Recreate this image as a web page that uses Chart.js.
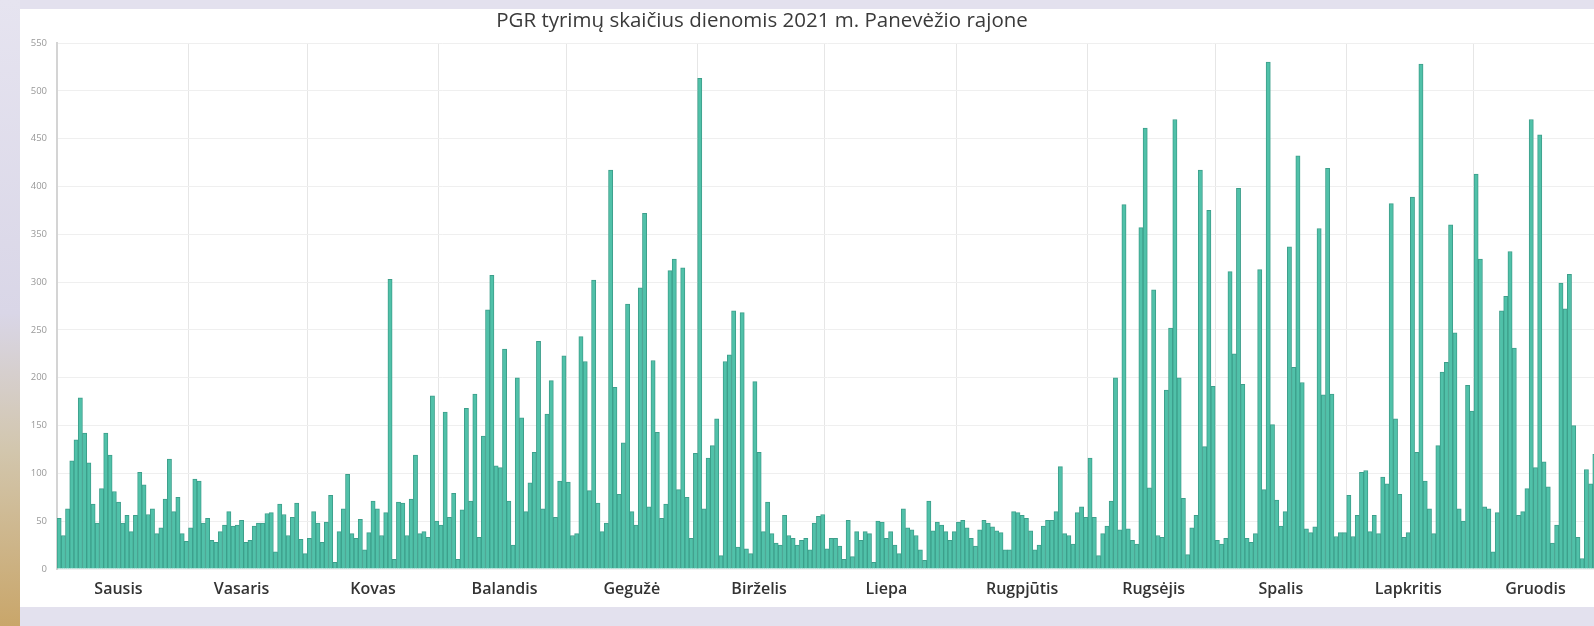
<!DOCTYPE html>
<html lang="lt">
<head>
<meta charset="utf-8">
<title>PGR tyrimai 2021</title>
<script src="https://cdn.jsdelivr.net/npm/chart.js@4.4.0/dist/chart.umd.min.js"></script>
<style>
  html, body { margin: 0; padding: 0; }
  body {
    width: 1594px; height: 626px; overflow: hidden; position: relative;
    background: #e3e1ee;
  }
  .kairė {
    position: absolute; left: 0; top: 0; width: 20px; height: 626px;
    background: linear-gradient(to bottom, #e6e4f0 0%, #d9d6e7 50%, #d2c6ad 72%, #c9a66a 100%);
  }
  .panel {
    position: absolute; left: 20px; top: 9px; width: 1600px; height: 598px;
    background: #fff;
  }
  .panel canvas { position: absolute; left: 0; top: 0; }
  .pavadinimas {
    position: absolute; left: 262px; top: 5px; width: 1000px;
    text-align: center; font: 20.5px 'Open Sans', sans-serif; color: #3a3a3a;
  }
</style>
</head>
<body>
<div class="kairė"></div>
<div class="panel"><canvas id="grafikas" width="1600" height="598"></canvas></div>
<div class="pavadinimas">PGR tyrimų skaičius dienomis 2021 m. Panevėžio rajone</div>
<script>
// tyrimų skaičius kiekvieną dieną, pagal mėnesius
const sausis    = [53, 35, 63, 113, 135, 179, 142, 111, 68, 48, 84, 142, 119, 81, 70, 48, 56, 39, 56, 101, 88, 57, 63, 37, 43, 73, 115, 60, 75, 37, 29];
const vasaris   = [43, 94, 92, 48, 53, 30, 28, 39, 46, 60, 45, 46, 51, 28, 30, 45, 48, 48, 58, 59, 18, 68, 57, 35, 54, 69, 31, 16];
const kovas     = [32, 60, 48, 28, 49, 77, 7, 39, 63, 99, 37, 32, 52, 20, 38, 71, 63, 35, 59, 303, 10, 70, 69, 35, 73, 119, 37, 39, 33, 181, 50];
const balandis  = [46, 164, 54, 79, 10, 62, 168, 71, 183, 33, 139, 271, 307, 108, 106, 230, 71, 25, 200, 158, 60, 90, 122, 238, 63, 162, 197, 54, 92, 223];
const geguze    = [91, 35, 37, 243, 217, 82, 302, 69, 39, 48, 417, 190, 78, 132, 277, 60, 46, 294, 372, 65, 218, 143, 53, 68, 312, 324, 83, 315, 75, 32, 121];
const birzelis  = [513, 63, 116, 129, 157, 14, 217, 224, 270, 23, 268, 21, 16, 196, 122, 39, 70, 37, 27, 25, 56, 35, 32, 25, 30, 32, 20, 48, 55, 57];
const liepa     = [21, 32, 32, 24, 10, 51, 13, 39, 30, 39, 37, 7, 50, 49, 32, 39, 25, 16, 63, 43, 41, 35, 20, 9, 71, 40, 49, 46, 39, 30, 39];
const rugpjutis = [49, 51, 43, 32, 24, 41, 51, 48, 44, 40, 38, 20, 20, 60, 59, 56, 53, 40, 20, 25, 45, 51, 51, 60, 107, 37, 35, 26, 59, 65, 54];
const rugsejis  = [116, 54, 14, 37, 45, 71, 200, 41, 381, 42, 30, 26, 357, 461, 85, 292, 35, 33, 187, 252, 470, 200, 74, 15, 43, 56, 417, 128, 375, 191];
const spalis    = [30, 26, 32, 311, 225, 398, 193, 32, 28, 37, 313, 83, 530, 151, 72, 45, 60, 337, 211, 432, 195, 42, 38, 44, 356, 182, 419, 183, 34, 38, 38];
const lapkritis = [77, 34, 56, 101, 103, 39, 56, 37, 96, 89, 382, 157, 78, 33, 38, 389, 122, 528, 92, 63, 37, 129, 206, 216, 360, 247, 63, 50, 192, 165];
const gruodis   = [413, 324, 65, 63, 18, 59, 270, 285, 332, 231, 56, 60, 84, 470, 106, 454, 112, 86, 27, 46, 299, 272, 308, 150, 33, 11, 104, 89, 120];

const menesiai = ['Sausis', 'Vasaris', 'Kovas', 'Balandis', 'Gegužė', 'Birželis',
                  'Liepa', 'Rugpjūtis', 'Rugsėjis', 'Spalis', 'Lapkritis', 'Gruodis'];
// kurią mėnesio dieną rodomas mėnesio pavadinimas
const pavadinimoDiena = [15, 13, 16, 16, 16, 15, 15, 16, 16, 16, 15, 15];
const yZymos = [0, 50, 100, 150, 200, 250, 300, 350, 400, 450, 500, 550];

const visiMenesiai = [sausis, vasaris, kovas, balandis, geguze, birzelis,
                      liepa, rugpjutis, rugsejis, spalis, lapkritis, gruodis];

const labels = [];
const reiksmes = [];
const menesioPradzia = new Set();
const pavadinimai = {};

visiMenesiai.forEach((dienos, m) => {
  menesioPradzia.add(labels.length);
  pavadinimai[labels.length + pavadinimoDiena[m] - 1] = menesiai[m];
  dienos.forEach((v, d) => {
    labels.push(`2021-${String(m + 1).padStart(2, '0')}-${String(d + 1).padStart(2, '0')}`);
    reiksmes.push(v);
  });
});

new Chart(document.getElementById('grafikas'), {
  type: 'bar',
  data: {
    labels,
    datasets: [{
      label: 'PGR tyrimai',
      data: reiksmes,
      backgroundColor: '#50c1a9',
      borderColor: '#3d9f8b',
      borderWidth: 1,
      barPercentage: 1,
      categoryPercentage: 1
    }]
  },
  options: {
    responsive: false,
    animation: false,
    devicePixelRatio: 1,
    layout: { padding: { top: 34, bottom: 8, left: 0, right: 23 } },
    plugins: {
      legend: { display: false },
      title: { display: false },
      tooltip: { enabled: false }
    },
    scales: {
      x: {
        grid: {
          drawTicks: false,
          color: ctx => menesioPradzia.has(ctx.index) ? '#e6e6e6' : 'rgba(0,0,0,0)',
          lineWidth: 1
        },
        border: { display: false },
        ticks: {
          autoSkip: false,
          maxRotation: 0,
          padding: 11,
          color: '#333',
          font: { size: 16, weight: '600', family: 'Open Sans' },
          callback: (val, i) => pavadinimai[i] || ''
        },
        afterFit: scale => { scale.height = 30; }
      },
      y: {
        min: yZymos[0],
        max: yZymos[yZymos.length - 1],
        afterBuildTicks: scale => { scale.ticks = yZymos.map(v => ({ value: v })); },
        grid: { drawTicks: false, color: '#efefef' },
        border: { color: '#d4d4d4', width: 2 },
        ticks: {
          padding: 10,
          color: '#999',
          font: { size: 9.5, family: 'Open Sans' }
        },
        afterFit: scale => { scale.width = 37; }
      }
    }
  }
});
</script>
</body>
</html>
